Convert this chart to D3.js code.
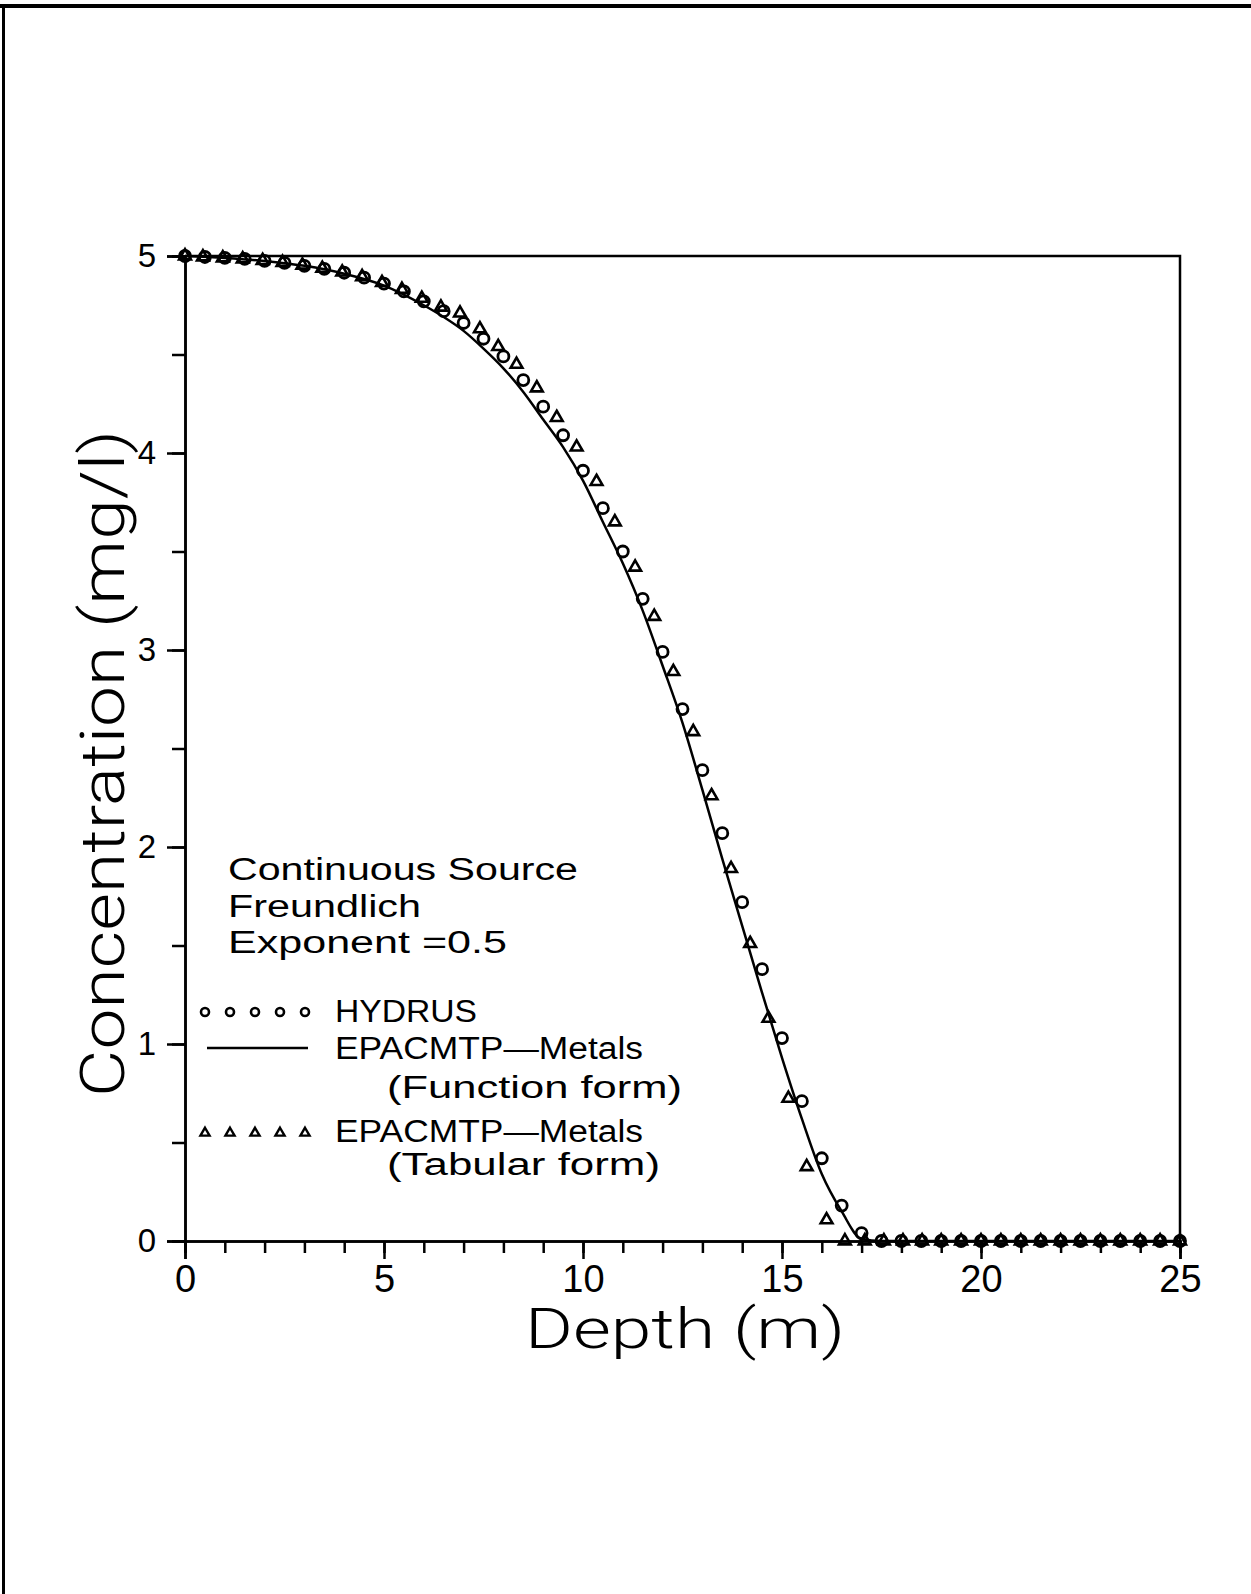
<!DOCTYPE html>
<html>
<head>
<meta charset="utf-8">
<script src="https://cdn.jsdelivr.net/npm/d3@7"></script>
<style>
  html, body { margin: 0; padding: 0; background: #fff; }
  svg { display: block; }
  text { font-family: "Liberation Sans", Arial, sans-serif; fill: #000; }
  .title { font-family: Roboto, "Liberation Sans", sans-serif; font-weight: 300; }
</style>
</head>
<body>
<div id="chart"></div>
<script>
// HYDRUS (circles), depth in m / concentration in mg/l
var hydrusDepth = [0, 0.5, 1, 1.5, 2, 2.5, 3, 3.5, 4, 4.5, 5, 5.5, 6, 6.5, 7, 7.5, 8, 8.5, 9, 9.5,
  10, 10.5, 11, 11.5, 12, 12.5, 13, 13.5, 14, 14.5, 15, 15.5, 16, 16.5, 17,
  17.5, 18, 18.5, 19, 19.5, 20, 20.5, 21, 21.5, 22, 22.5, 23, 23.5, 24, 24.5, 25];
var hydrusConc = [5.0, 4.995, 4.99, 4.985, 4.975, 4.965, 4.95, 4.935, 4.915, 4.89, 4.86, 4.82, 4.77, 4.72, 4.66, 4.58, 4.49, 4.37, 4.235, 4.09,
  3.91, 3.72, 3.50, 3.26, 2.99, 2.70, 2.39, 2.07, 1.72, 1.38, 1.03, 0.71, 0.42, 0.18, 0.04,
  0, 0, 0, 0, 0, 0, 0, 0, 0, 0, 0, 0, 0, 0, 0, 0];

// EPACMTP-Metals, tabular form (triangles)
var tabDepth = [0, 0.45, 0.95, 1.45, 1.95, 2.45, 2.95, 3.45, 3.95, 4.45, 4.95, 5.45, 5.95, 6.43, 6.91, 7.41, 7.87, 8.33, 8.84, 9.34,
  9.84, 10.34, 10.8, 11.31, 11.79, 12.27, 12.77, 13.23, 13.72, 14.2, 14.66, 15.16, 15.62, 16.12, 16.58,
  17.08, 17.56, 18.04, 18.52, 19.0, 19.5, 20.0, 20.5, 21.0, 21.5, 22.0, 22.5, 23.0, 23.5, 24.0, 24.5, 25.0];
var tabConc = [5.0, 4.995, 4.99, 4.985, 4.977, 4.967, 4.953, 4.937, 4.918, 4.895, 4.865, 4.83, 4.785, 4.74, 4.71, 4.63, 4.54, 4.45, 4.33, 4.18,
  4.03, 3.855, 3.65, 3.42, 3.17, 2.89, 2.585, 2.26, 1.89, 1.51, 1.13, 0.724, 0.377, 0.107, 0.0,
  0, 0, 0, 0, 0, 0, 0, 0, 0, 0, 0, 0, 0, 0, 0, 0, 0];

// EPACMTP-Metals, function form (solid line)
var funcDepth = [0, 1, 2, 3, 4, 5, 6, 6.5, 7, 7.5, 8, 8.5, 9, 9.5, 10, 10.5, 11, 11.5, 12, 12.5,
  13, 13.5, 14, 14.5, 15, 15.5, 16, 16.5, 17, 17.5, 25];
var funcConc = [5.0, 4.99, 4.975, 4.95, 4.91, 4.85, 4.75, 4.69, 4.62, 4.53, 4.43, 4.31, 4.17, 4.03, 3.86, 3.65, 3.44, 3.20, 2.92, 2.63,
  2.29, 1.94, 1.60, 1.26, 0.93, 0.62, 0.34, 0.15, 0.01, 0, 0];

var xMajor = [0, 5, 10, 15, 20, 25];
var yMajor = [0, 1, 2, 3, 4, 5];
var notes = ["Continuous Source", "Freundlich", "Exponent =0.5"];

var width = 1251, height = 1594;
var svg = d3.select("#chart").append("svg")
  .attr("width", width).attr("height", height);

// page frame (only top and left edges show)
svg.append("rect").attr("x", 0).attr("y", 4).attr("width", width).attr("height", 4).attr("fill", "#000");
svg.append("rect").attr("x", 2).attr("y", 4).attr("width", 3).attr("height", height).attr("fill", "#000");

var x = d3.scaleLinear().domain([0, 25]).range([185, 1180]);
var y = d3.scaleLinear().domain([0, 5]).range([1241, 256]);

var g = svg.append("g");

// minor ticks
g.append("g").attr("transform", "translate(0," + y(0) + ")")
  .call(d3.axisBottom(x).tickValues(d3.range(0, 26, 1)).tickSize(12).tickFormat(""));
g.append("g").attr("transform", "translate(" + x(0) + ",0)")
  .call(d3.axisLeft(y).tickValues(d3.range(0, 5.01, 0.5)).tickSize(13).tickFormat(""));

// major ticks with labels
var xAxis = g.append("g").attr("transform", "translate(0," + y(0) + ")")
  .call(d3.axisBottom(x).tickValues(xMajor).tickSize(18).tickPadding(6).tickFormat(d3.format("d")));
xAxis.selectAll("text").style("font-size", "38px");
var yAxis = g.append("g").attr("transform", "translate(" + x(0) + ",0)")
  .call(d3.axisLeft(y).tickValues(yMajor).tickSize(18).tickPadding(11).tickFormat(d3.format("d")));
yAxis.selectAll("text").style("font-size", "33px");

g.selectAll(".domain").attr("stroke", "#000").attr("stroke-width", 2.5);
g.selectAll(".tick line").attr("stroke", "#000").attr("stroke-width", 2.5);
g.selectAll("text").attr("fill", "#000").attr("font-family", null);

// top and right borders of the plot
g.append("path")
  .attr("d", "M" + x(0) + "," + y(5) + "H" + x(25) + "V" + y(0))
  .attr("fill", "none").attr("stroke", "#000").attr("stroke-width", 2.5);

// function form line
var line = d3.line().x(function (d, i) { return x(funcDepth[i]); }).y(function (d) { return y(d); })
  .curve(d3.curveMonotoneX);
g.append("path").datum(funcConc).attr("d", line)
  .attr("fill", "none").attr("stroke", "#000").attr("stroke-width", 2.5);

// HYDRUS circles
g.selectAll(".hyd").data(hydrusConc).enter().append("circle")
  .attr("class", "hyd")
  .attr("cx", function (d, i) { return x(hydrusDepth[i]); })
  .attr("cy", function (d) { return y(d); })
  .attr("r", 5.5)
  .attr("fill", "none").attr("stroke", "#000").attr("stroke-width", 2.8);

// tabular triangles
var tri = d3.symbol().type(d3.symbolTriangle).size(60);
g.selectAll(".tab").data(tabConc).enter().append("path")
  .attr("class", "tab")
  .attr("d", tri)
  .attr("transform", function (d, i) { return "translate(" + x(tabDepth[i]) + "," + y(d) + ")"; })
  .attr("fill", "none").attr("stroke", "#000").attr("stroke-width", 2.6);

// axis titles
svg.append("text").attr("class", "title")
  .attr("x", 525).attr("y", 1348)
  .attr("textLength", 320).attr("lengthAdjust", "spacingAndGlyphs")
  .style("font-size", "56px")
  .text("Depth (m)");
svg.append("text").attr("class", "title")
  .attr("transform", "translate(124,1097) rotate(-90)")
  .attr("textLength", 667).attr("lengthAdjust", "spacingAndGlyphs")
  .style("font-size", "62px")
  .text("Concentration (mg/l)");

// notes
var noteWidths = [350, 193, 279];
svg.selectAll(".note").data(notes).enter().append("text")
  .attr("class", "note")
  .attr("x", 228)
  .attr("y", function (d, i) { return 880 + i * 36.5; })
  .attr("textLength", function (d, i) { return noteWidths[i]; })
  .attr("lengthAdjust", "spacingAndGlyphs")
  .style("font-size", "31px")
  .text(function (d) { return d; });

// legend
var lg = svg.append("g");
var slots = d3.range(5).map(function (i) { return 205 + i * 25; });
lg.selectAll(".lc").data(slots).enter().append("circle")
  .attr("cx", function (d) { return d; }).attr("cy", 1012).attr("r", 4)
  .attr("fill", "none").attr("stroke", "#000").attr("stroke-width", 2.6);
lg.append("line").attr("x1", 207).attr("x2", 308).attr("y1", 1048).attr("y2", 1048)
  .attr("stroke", "#000").attr("stroke-width", 2.5);
lg.selectAll(".lt").data(slots).enter().append("path")
  .attr("d", d3.symbol().type(d3.symbolTriangle).size(36))
  .attr("transform", function (d) { return "translate(" + d + ",1133)"; })
  .attr("fill", "none").attr("stroke", "#000").attr("stroke-width", 2.4);

var legendText = [
  { t: "HYDRUS", x: 335, y: 1022, w: 142 },
  { t: "EPACMTP\u2014Metals", x: 335, y: 1059, w: 308 },
  { t: "(Function form)", x: 387, y: 1098, w: 295 },
  { t: "EPACMTP\u2014Metals", x: 335, y: 1142, w: 308 },
  { t: "(Tabular form)", x: 387, y: 1175, w: 273 }
];
lg.selectAll(".ltxt").data(legendText).enter().append("text")
  .attr("x", function (d) { return d.x; })
  .attr("y", function (d) { return d.y; })
  .attr("textLength", function (d) { return d.w; })
  .attr("lengthAdjust", "spacingAndGlyphs")
  .style("font-size", "31px")
  .text(function (d) { return d.t; });
</script>
</body>
</html>
